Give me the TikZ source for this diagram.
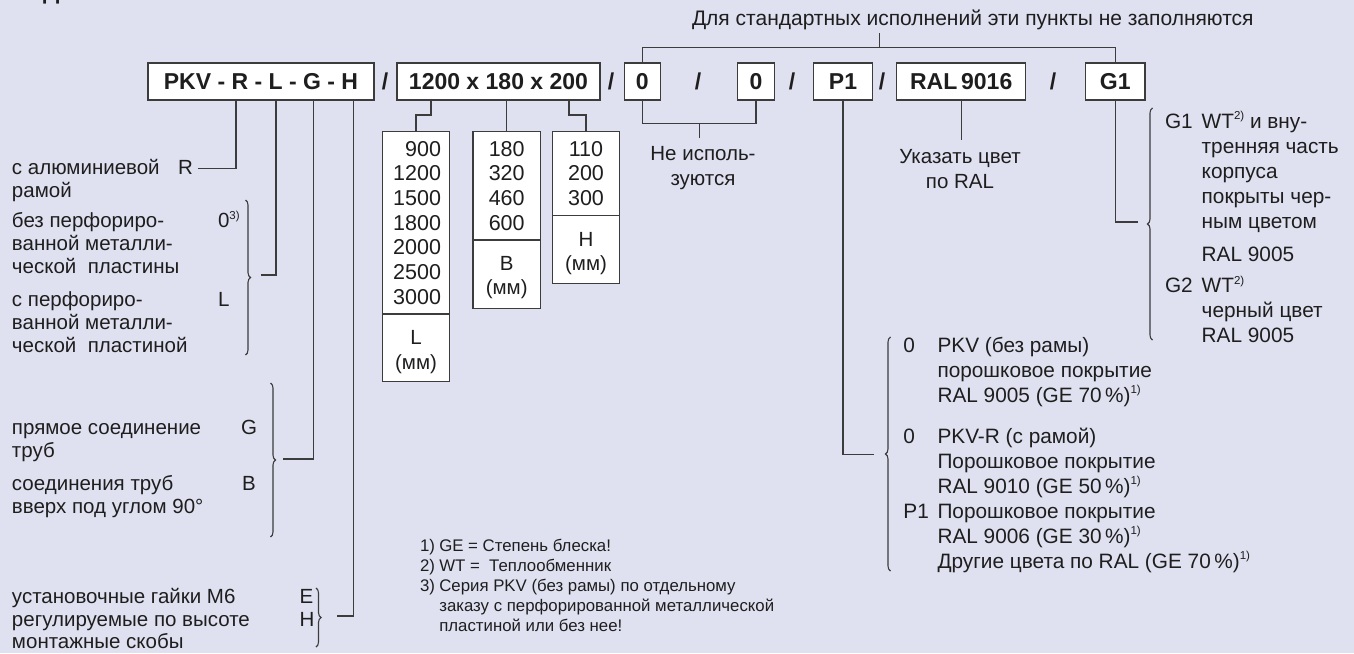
\documentclass[tikz,border=0pt]{standalone}
\usepackage{fontspec}
\setmainfont{Liberation Sans}
\usetikzlibrary{decorations.pathreplacing,calc}
\definecolor{bg}{HTML}{DFE1F0}
\definecolor{ln}{HTML}{3C3C3C}
\definecolor{tx}{HTML}{1E1E1E}
\newcommand\sps[1]{\raisebox{0.42em}{\fontsize{11.5}{11.5}\selectfont #1}}
\begin{document}
\begin{tikzpicture}[x=1pt,y=-1pt,
  every node/.style={text=tx, inner sep=0pt, outer sep=0pt},
  hbox/.style={draw=ln, fill=white, line width=1.2pt, minimum height=37, font=\fontsize{23}{26}\selectfont\bfseries},
  slash/.style={font=\fontsize{23}{26}\selectfont\bfseries},
  sbox/.style={draw=ln, fill=white, line width=1.2pt},
  txt/.style={font=\fontsize{20.5}{23}\selectfont, align=left, anchor=base west},
  rtxt/.style={font=\fontsize{20.8}{25}\selectfont, align=left, anchor=base west},
  ctxt/.style={font=\fontsize{20.5}{24.5}\selectfont, align=center, anchor=base},
  num/.style={font=\fontsize{21.5}{24.7}\selectfont},
  fn/.style={font=\fontsize{16.8}{20}\selectfont, align=left, anchor=base west},
  conn/.style={draw=ln, line width=1.1pt},
  brc/.style={draw=ln, line width=1.1pt, decorate, decoration={brace, amplitude=5pt}},
]
\useasboundingbox (0,0) rectangle (1354,653);
\fill[bg] (0,0) rectangle (1354,653);

% cut-off heading fragment
\node[anchor=base west, font=\fontsize{23}{26}\selectfont\bfseries] (cut) at (43,-0.5) {Д};

% title
\node[txt, font=\fontsize{21}{24}\selectfont] (title) at (692,25) {Для стандартных исполнений эти пункты не заполняются};

% header boxes
\node[hbox, minimum width=226] (b1) at (261,81.5) {PKV - R - L - G - H};
\node[slash] (s1) at (385,81.5) {/};
\node[hbox, minimum width=203] (b2) at (498.5,81.5) {1200 x 180 x 200};
\node[slash] (s2) at (611,81.5) {/};
\node[hbox, minimum width=36] (b3) at (642.3,81.5) {0};
\node[slash] (s3) at (698,81.5) {/};
\node[hbox, minimum width=36.6] (b4) at (756,81.5) {0};
\node[slash] (s4) at (792,81.5) {/};
\node[hbox, minimum width=59.4] (b5) at (843,81.5) {P1};
\node[slash] (s5) at (882,81.5) {/};
\node[hbox, minimum width=129] (b6) at (961.2,81.5) {RAL\,9016};
\node[slash] (s6) at (1053,81.5) {/};
\node[hbox, minimum width=59.7] (b7) at (1115.2,81.5) {G1};

% top bracket
\coordinate (tstub) at (879.3,33);
\draw[conn] (tstub) -- (879.3,47.7);
\draw[conn] (b3.north) -- (642.3,47.7) -| (b7.north);

% not used bracket
\draw[conn] (b3.south) -- (642.3,123.3) -| (b4.south);
\draw[conn] (699.3,123.3) -- (699.3,138.3);
\node[ctxt] (nu) at (703,185.2) {Не исполь-\\зуются};

% RAL
\draw[conn] (b6.south) -- ++(0,40);
\node[ctxt] (uk) at (960,188) {Указать цвет\\по RAL};

% left column (anchors at last-line baselines)
\node[txt] (tR) at (12,197.3) {с алюминиевой\\рамой};
\node[txt] (kR) at (178,174.3) {R};
\node[txt] (t0) at (12,273.7) {без перфориро-\\ванной металли-\\ческой\ \ пластины};
\node[txt] (k0) at (218,227.7) {0\sps{3)}};
\node[txt] (tL) at (12,352.7) {с перфориро-\\ванной металли-\\ческой\ \ пластиной};
\node[txt] (kL) at (218,306.7) {L};
\node[txt] (tG) at (12,457) {прямое соединение\\труб};
\node[txt] (kG) at (241,434) {G};
\node[txt] (tB) at (12,513.7) {соединения труб\\вверх под углом 90°};
\node[txt] (kB) at (242,490.7) {B};
\node[txt, font=\fontsize{20.5}{22.7}\selectfont] (tE) at (12,648.7) {установочные гайки М6\\регулируемые по высоте\\монтажные скобы};
\node[txt] (kE) at (299.5,603.3) {E};
\node[txt] (kH) at (299.5,626) {H};

\draw[brc] (245.5,200) -- (245.5,355);
\draw[brc] (270.5,383) -- (270.5,537);
\draw[brc] (316,588) -- (316,647);

\coordinate (eR) at (198,168.3);
\coordinate (eL) at (261,275);
\coordinate (eG) at (283,459);
\coordinate (eH) at (337,616);
\draw[conn] ([xshift=-25]b1.south) |- (eR);
\draw[conn] ([xshift=15]b1.south) |- (eL);
\draw[conn] ([xshift=52.7]b1.south) |- (eG);
\draw[conn] ([xshift=92.7]b1.south) |- (eH);

% size boxes
\node[sbox, minimum width=66.6, minimum height=182.3, anchor=north] (Lt) at (416,131.7) {};
\node[sbox, minimum width=66.6, minimum height=67.7, anchor=north] (Lb) at (Lt.south) {};
\node[num, align=right, anchor=base east] (Ln) at (441,304.2) {900\\1200\\1500\\1800\\2000\\2500\\3000};
\node[ctxt] (Lu) at (416,369) {L\\(мм)};

\node[sbox, minimum width=67.3, minimum height=108.3, anchor=north] (Bt) at (506.7,131.7) {};
\node[sbox, minimum width=67.3, minimum height=68.3, anchor=north] (Bb) at (Bt.south) {};
\node[num, align=center, anchor=base] (Bn) at (506.7,230.1) {180\\320\\460\\600};
\node[ctxt] (Bu) at (506.7,294.5) {B\\(мм)};

\node[sbox, minimum width=67.4, minimum height=84, anchor=north] (Ht) at (586,131.7) {};
\node[sbox, minimum width=67.4, minimum height=67.6, anchor=north] (Hb) at (Ht.south) {};
\node[num, align=center, anchor=base] (Hn) at (586,205.4) {110\\200\\300};
\node[ctxt] (Hu) at (586,270.5) {H\\(мм)};

\draw[conn] ([xshift=-67.5]b2.south) -- ++(0,15) -| (Lt.north);
\draw[conn] ([xshift=8.2]b2.south) -- (Bt.north);
\draw[conn] ([xshift=70.5]b2.south) -- ++(0,15) -| (Ht.north);

% G1 block
\draw[conn] (b7.south) |- (1138.3,222);
\draw[brc] (1152.5,340) -- (1152.5,108);
\node[rtxt] (g1k) at (1165,128.3) {G1};
\node[rtxt] (g1t) at (1201.7,261.3) {WT\sps{2)} и вну-\\тренняя часть\\корпуса\\покрыты чер-\\ным цветом\\[8pt]RAL 9005};
\node[rtxt] (g2k) at (1165,292.8) {G2};
\node[rtxt] (g2t) at (1201.7,342.8) {WT\sps{2)}\\черный цвет\\RAL 9005};

% P1 block
\draw[conn] (b5.south) |- (873.5,454.6);
\draw[brc] (890.5,571) -- (890.5,337);
\node[rtxt] (p0a) at (903.4,352.4) {0};
\node[rtxt] (p0at) at (937.5,402.4) {PKV (без рамы)\\порошковое покрытие\\RAL 9005 (GE 70\,\%)\sps{1)}};
\node[rtxt] (p0b) at (903.4,443.3) {0};
\node[rtxt] (p0bt) at (937.5,493.3) {PKV-R (с рамой)\\Порошковое покрытие\\RAL 9010 (GE 50\,\%)\sps{1)}};
\node[rtxt] (p1) at (903.4,518.6) {P1};
\node[rtxt] (p1t) at (937.5,568.6) {Порошковое покрытие\\RAL 9006 (GE 30\,\%)\sps{1)}\\Другие цвета по RAL (GE 70\,\%)\sps{1)}};

% footnotes
\node[fn] (fnk) at (420,591.7) {1)\\2)\\3)};
\node[fn] (fnt) at (439.3,631.7) {GE = Степень блеска!\\WT =\ \ Теплообменник\\Серия PKV (без рамы) по отдельному\\заказу с перфорированной металлической\\пластиной или без нее!};
\end{tikzpicture}
\end{document}
